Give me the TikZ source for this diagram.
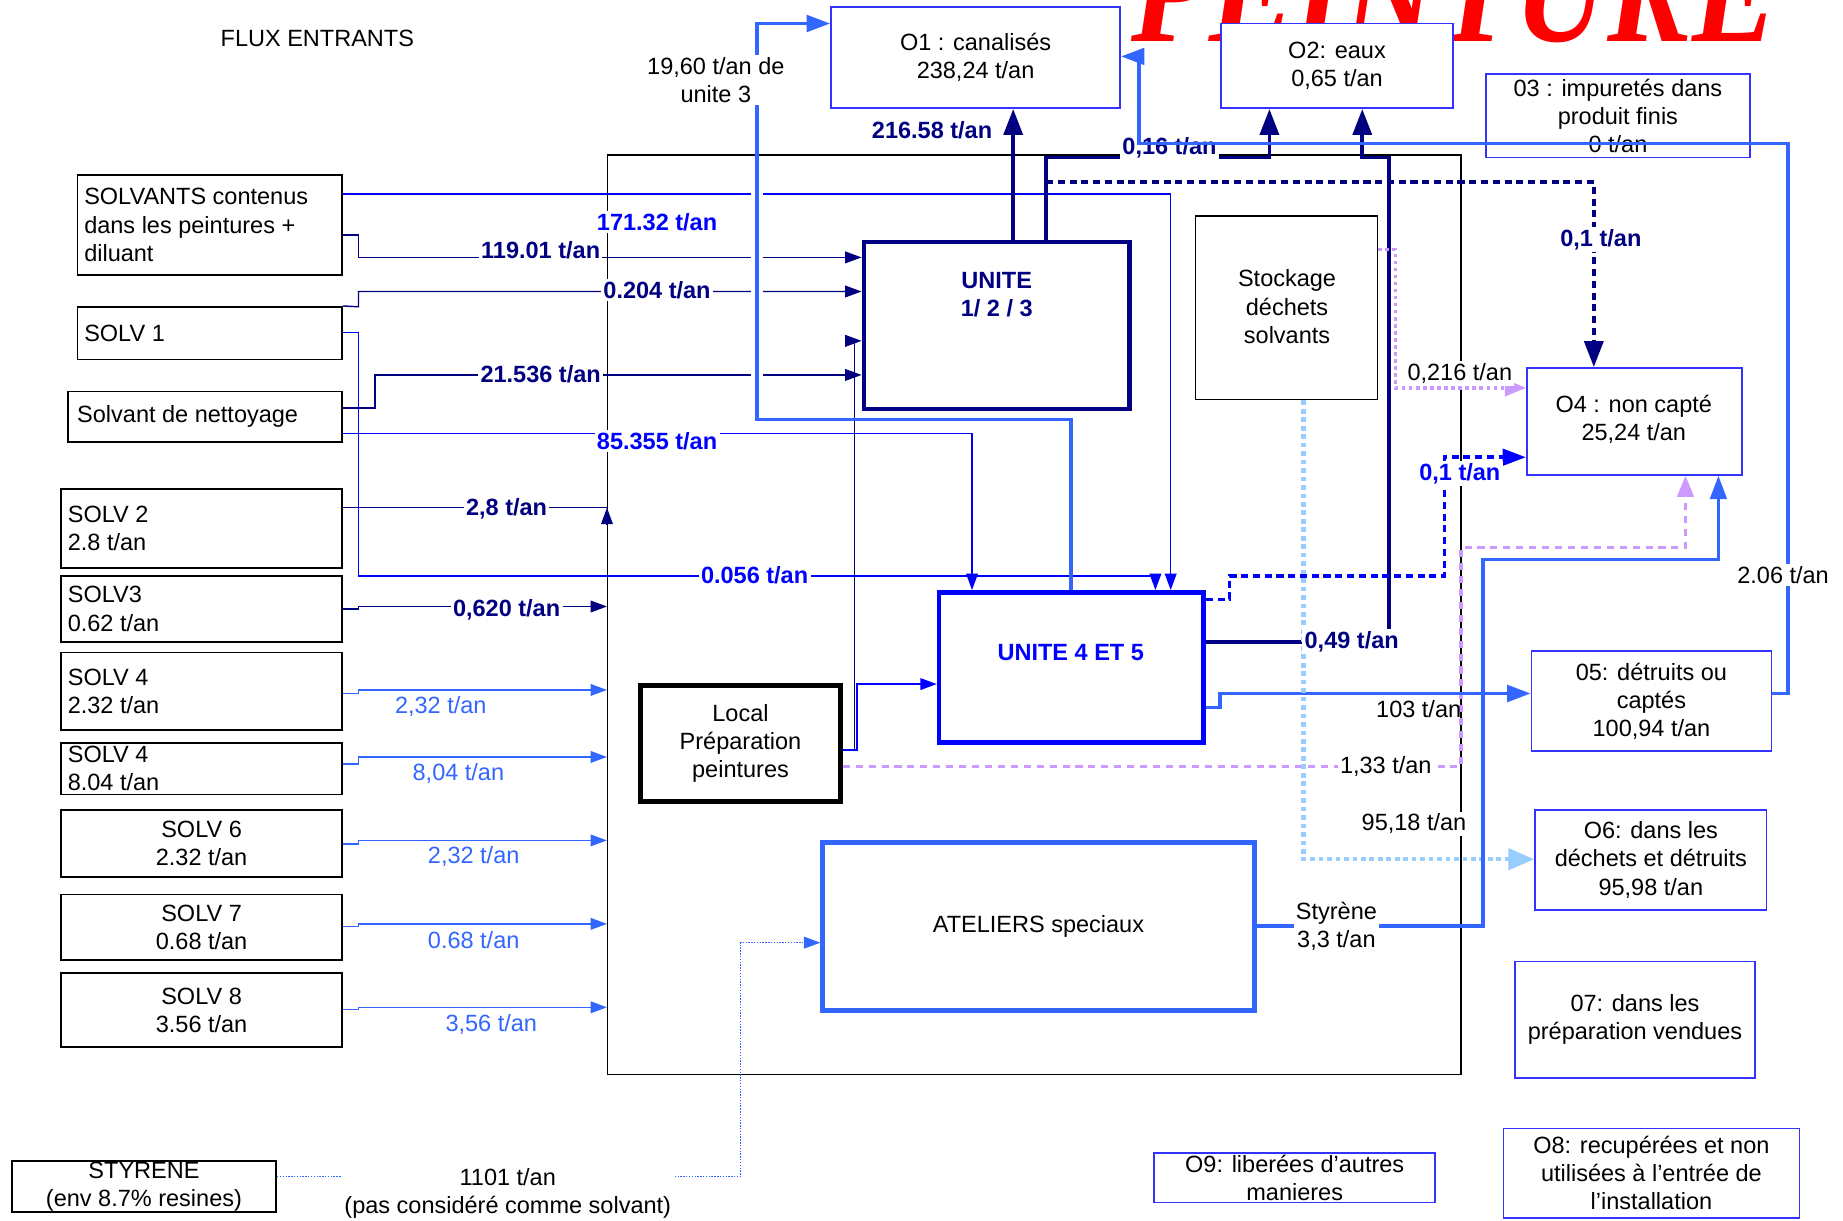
\documentclass[tikz,border=0pt]{standalone}
\usepackage{fontspec}
\setmainfont{Liberation Sans}
\newfontfamily\titlefont{Liberation Serif}
\usetikzlibrary{arrows.meta,fit}
\definecolor{navyc}{HTML}{000080}
\definecolor{bluec}{HTML}{0000FF}
\definecolor{lbluec}{HTML}{3366FF}
\definecolor{lavc}{HTML}{CC99FF}
\definecolor{pbluec}{HTML}{99CCFF}
\definecolor{oboxc}{HTML}{3333FF}
\definecolor{redc}{HTML}{FF0000}
\begin{document}
\begin{tikzpicture}[x=0.5pt,y=-0.5pt,
  box/.style={draw=black, line width=0.7pt, fill=white, inner sep=0pt},
  obox/.style={draw=oboxc, line width=0.7pt, fill=white, inner sep=0pt},
  ubox/.style={line width=2pt, fill=white, inner sep=0pt},
  lt/.style={anchor=west, inner sep=0pt, align=left},
  ct/.style={inner sep=0pt, align=center},
  thn/.style={line width=0.6pt},
  fat/.style={line width=1.6pt},
  tip/.style={-{Triangle[length=7pt,width=5pt]}},
  bigtip/.style={-{Triangle[length=10pt,width=7pt]}},
  navtip/.style={-{Triangle[length=11pt,width=8pt]}},
  lavtip/.style={-{Triangle[length=9pt,width=7pt]}},
  lab/.style={fill=white, inner sep=1pt, align=center},
  blab/.style={fill=white, inner sep=1pt, font=\bfseries},
]
\useasboundingbox (0,0) rectangle (1568,1038);
\clip (0,0) rectangle (1568,1038);

% title
\node[anchor=base west, inner sep=0pt, text=redc, font=\titlefont\fontsize{64}{70}\selectfont\bfseries\itshape] (title) at (962,35) {\scalebox{0.85}[1]{PEINTURE}};
\node[inner sep=0pt] (flux) at (270,33) {FLUX ENTRANTS};

% frame
\node[draw, line width=0.6pt, inner sep=0pt, fit={(517,132)(1243,914)}] (frame) {};

% input boxes
\node[box, fit={(66,149)(291,234)}] (solv0) {};
\node[lt] (solv0t) at ([xshift=3pt]solv0.west) {SOLVANTS contenus\\dans les peintures +\\diluant};
\node[box, fit={(66,261)(291,306)}] (solv1) {};
\node[lt] (solv1t) at ([xshift=3pt]solv1.west) {SOLV 1};
\node[box, fit={(58,333)(291,376)}] (nett) {};
\node[lt] (nettt) at ([xshift=4pt]nett.west) {Solvant de nettoyage};
\node[box, fit={(52,416)(291,483)}] (solv2) {};
\node[lt] (solv2t) at ([xshift=3pt]solv2.west) {SOLV 2\\2.8 t/an};
\node[box, fit={(52,490)(291,546)}] (solv3) {};
\node[lt] (solv3t) at ([xshift=3pt]solv3.west) {SOLV3\\0.62 t/an};
\node[box, fit={(52,555)(291,621)}] (solv4a) {};
\node[lt] (solv4at) at ([xshift=3pt]solv4a.west) {SOLV 4\\2.32 t/an};
\node[box, fit={(52,632)(291,676)}] (solv4b) {};
\node[lt] (solv4bt) at ([xshift=3pt]solv4b.west) {SOLV 4\\8.04 t/an};
\node[box, fit={(52,689)(291,746)}] (solv6) {};
\node[ct] (solv6t) at (solv6.center) {SOLV 6\\2.32 t/an};
\node[box, fit={(52,761)(291,817)}] (solv7) {};
\node[ct] (solv7t) at (solv7.center) {SOLV 7\\0.68 t/an};
\node[box, fit={(52,828)(291,891)}] (solv8) {};
\node[ct] (solv8t) at (solv8.center) {SOLV 8\\3.56 t/an};
\node[box, fit={(10,988)(235,1031)}] (styr) {};
\node[ct] (styrt) at (styr.center) {STYRENE\\(env 8.7\% resines)};

% process boxes
\node[ubox, draw=navyc, fit={(735,206)(961,348)}] (u123) {};
\node[ct, font=\bfseries, text=navyc] (u123t) at (848,251) {UNITE\\1/ 2 / 3};
\node[ubox, draw=bluec, fit={(799,504)(1024,632)}] (u45) {};
\node[ct, font=\bfseries, text=bluec] (u45t) at (911,555) {UNITE 4 ET 5};
\node[ubox, draw=black, fit={(545,583)(715,682)}] (local) {};
\node[ct] (localt) at (local.center) {Local\\Préparation\\peintures};
\node[box, fit={(1017,184)(1172,340)}] (stock) {};
\node[ct] (stockt) at (1095,261) {Stockage\\déchets\\solvants};
\node[ubox, draw=lbluec, fit={(700,717)(1067,860)}] (atel) {};
\node[ct] (atelt) at (atel.center) {ATELIERS speciaux};

% output boxes
\node[obox, fit={(707,6)(953,92)}] (o1) {};
\node[ct] (o1t) at (o1.center) {O1 : canalisés\\238,24 t/an};
\node[obox, fit={(1039,20)(1236,92)}] (o2) {};
\node[ct] (o2t) at (o2.center) {O2: eaux\\0,65 t/an};
\node[obox, fit={(1264,63)(1489,134)}] (o3) {};
\node[ct] (o3t) at (o3.center) {03 : impuretés dans\\produit finis\\0 t/an};
\node[obox, fit={(1299,313)(1482,404)}] (o4) {};
\node[ct] (o4t) at (1390,357) {O4 : non capté\\25,24 t/an};
\node[obox, fit={(1303,554)(1507,639)}] (o5) {};
\node[ct] (o5t) at (o5.center) {05: détruits ou\\captés\\100,94 t/an};
\node[obox, fit={(1306,689)(1503,774)}] (o6) {};
\node[ct] (o6t) at (o6.center) {O6: dans les\\déchets et détruits\\95,98 t/an};
\node[obox, fit={(1289,818)(1493,917)}] (o7) {};
\node[ct] (o7t) at (o7.center) {07: dans les\\préparation vendues};
\node[obox, fit={(1279,960)(1531,1036)}] (o8) {};
\node[ct] (o8t) at (o8.center) {O8: recupérées et non\\utilisées à l’entrée de\\l’installation};
\node[obox, fit={(982,981)(1221,1023)}] (o9) {};
\node[ct] (o9t) at (o9.center) {O9: liberées d’autres\\manieres};

% thin connectors
\draw[thn, bluec, tip] (solv0.east |- 0,165) -- (996,165) -- (u45.north -| 996,0);
\draw[thn, navyc, tip] (solv0.east |- 0,200) -- (305,200) -- (305,219) -- (u123.west |- 0,219);
\draw[thn, navyc, tip] (solv1.north east) -- (305,261) -- (305,248) -- (u123.west |- 0,248);
\draw[thn, bluec, tip] (solv1.east |- 0,283) -- (305,283) -- (305,490) -- (983,490) -- (u45.north -| 983,0);
\draw[thn, navyc, tip] (nett.east |- 0,347) -- (319,347) -- (319,319) -- (u123.west |- 0,319);
\draw[thn, bluec, tip] (nett.east |- 0,369) -- (827,369) -- (u45.north -| 827,0);
\draw[thn, navyc, tip] (local.east |- 0,638) -- (727,638) -- (727,290) -- (u123.west |- 0,290);
\draw[thn, bluec, tip] (local.east |- 0,638) -- (729,638) -- (729,582) -- (u45.west |- 0,582);
\draw[thn, navyc] (solv2.east |- 0,432) -- (frame.west |- 0,432);
\draw[thn, navyc, tip] (frame.west |- 0,447) -- (frame.west |- 0,432);
\draw[thn, navyc, tip] (solv3.east |- 0,518) -- (305,518) -- (305,516) -- (frame.west |- 0,516);
\draw[thn, lbluec, tip] (solv4a.east |- 0,590) -- (305,590) -- (305,587) -- (frame.west |- 0,587);
\draw[thn, lbluec, tip] (solv4b.east |- 0,650) -- (305,650) -- (305,644) -- (frame.west |- 0,644);
\draw[thn, lbluec, tip] (solv6.east |- 0,718) -- (305,718) -- (305,715) -- (frame.west |- 0,715);
\draw[thn, lbluec, tip] (solv7.east |- 0,788) -- (305,788) -- (305,786) -- (frame.west |- 0,786);
\draw[thn, lbluec, tip] (solv8.east |- 0,859) -- (305,859) -- (305,857) -- (frame.west |- 0,857);
\draw[line width=0.5pt, lbluec, dash pattern=on 0.6pt off 0.6pt, tip] (styr.east |- 0,1001) -- (630,1001) -- (630,802) -- (atel.west |- 0,802);

% gaps under thick vertical
\draw[white, line width=5pt] (644,150) -- (644,330);

% thick connectors
\draw[fat, lbluec, bigtip] (u45.north -| 911,0) -- (911,357) -- (644,357) -- (644,20) -- (o1.west |- 0,20);
\draw[fat, navyc, navtip] (u123.north -| 862,0) -- (o1.south -| 862,0);
\draw[fat, navyc, navtip] (u123.north -| 890,0) -- (890,134) -- (1080,134) -- (o2.south -| 1080,0);
\draw[fat, navyc, navtip] (u45.east |- 0,546) -- (1182,546) -- (1182,134) -- (1159,134) -- (o2.south -| 1159,0);
\draw[fat, navyc, dash pattern=on 3pt off 2pt, navtip] (890,155) -- (1356,155) -- (o4.north -| 1356,0);
\draw[line width=1.4pt, lavc, dash pattern=on 3pt off 2.5pt, lavtip] (local.east |- 0,652) -- (1243,652) -- (1243,466) -- (1434,466) -- (o4.south -| 1434,0);
\draw[line width=1.4pt, lavc, dash pattern=on 1.5pt off 1.5pt, lavtip] (stock.east |- 0,212) -- (1187,212) -- (1187,330) -- (o4.west |- 0,330);
\draw[fat, bluec, dash pattern=on 3pt off 2pt, bigtip] (u45.east |- 0,510) -- (1046,510) -- (1046,490) -- (1229,490) -- (1229,389) -- (o4.west |- 0,389);
\draw[fat, lbluec, bigtip] (u45.east |- 0,602) -- (1038,602) -- (1038,590) -- (o5.west |- 0,590);
\draw[line width=1.8pt, pbluec, dash pattern=on 2pt off 1.6pt, -{Triangle[length=11pt,width=9pt]}] (stock.south -| 1109,0) -- (1109,731) -- (o6.west |- 0,731);
\draw[fat, lbluec, bigtip] (atel.east |- 0,788) -- (1262,788) -- (1262,476) -- (1462,476) -- (o4.south -| 1462,0);

% labels
\node[lab] (l19) at (609,68) {19,60 t/an de\\unite 3};
\node[blab, text=navyc, fill=none] (l216) at (793,111) {216.58 t/an};
\node[blab, text=navyc] (l016) at (995,126) {0,16 t/an};
\node[blab, text=navyc] (l01a) at (1362,204) {0,1 t/an};
\node[blab, text=bluec] (l171) at (559,189) {171.32 t/an};
\node[blab, text=navyc] (l119) at (460,213) {119.01 t/an};
\node[blab, text=navyc] (l0204) at (559,247) {0.204 t/an};
\node[blab, text=navyc] (l21) at (460,318) {21.536 t/an};
\node[blab, text=bluec] (l85) at (559,375) {85.355 t/an};
\node[blab, text=navyc] (l28) at (431,433) {2,8 t/an};
\node[blab, text=bluec] (l0056) at (642,489) {0.056 t/an};
\node[blab, text=navyc] (l0620) at (431,519) {0,620 t/an};
\node[lab, text=lbluec, fill=none] (l232a) at (375,601) {2,32 t/an};
\node[lab, text=lbluec, fill=none] (l804) at (390,658) {8,04 t/an};
\node[lab, text=lbluec, fill=none] (l232b) at (403,729) {2,32 t/an};
\node[lab, text=lbluec, fill=none] (l068) at (403,800) {0.68 t/an};
\node[lab, text=lbluec, fill=none] (l356) at (418,872) {3,56 t/an};
\node[lab] (l1101) at (432,1015) {1101 t/an\\(pas considéré comme solvant)};
\node[lab] (l0216) at (1242,318) {0,216 t/an};
\node[blab, text=bluec] (l01b) at (1242,403) {0,1 t/an};
\node[blab, text=navyc] (l049) at (1150,546) {0,49 t/an};
\node[lab, fill=none] (l103) at (1207,603) {103 t/an};
\node[lab] (l133) at (1179,652) {1,33 t/an};
\node[lab] (l9518) at (1203,701) {95,18 t/an};
\node[lab] (lsty) at (1137,788) {Styrène\\3,3 t/an};

% 2.06 return to O1
\draw[fat, lbluec, bigtip] (o5.east |- 0,590) -- (1521,590) -- (1521,122) -- (969,122) -- (969,48) -- (o1.east |- 0,48);
\node[lab] (l206) at (1517,489) {2.06 t/an};
\end{tikzpicture}
\end{document}
